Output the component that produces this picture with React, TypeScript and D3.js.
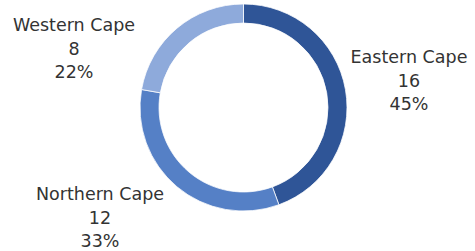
import React, { useEffect, useRef } from 'react';
import * as d3 from 'd3';

// chart data
const regions = ['Eastern Cape', 'Northern Cape', 'Western Cape'];
const counts = [16, 12, 8];
const percentLabels = ['45%', '33%', '22%'];
const colors = ['#2F5597', '#5580C6', '#8EAADB'];

// where Excel put the data labels (centre x, first baseline y)
const labelPos: [number, number][] = [
  [409, 63],
  [100, 200],
  [74, 31],
];

const W = 475;
const H = 251;

export default function App() {
  const ref = useRef<SVGSVGElement>(null);

  useEffect(() => {
    const svg = d3.select(ref.current);
    svg.selectAll('*').remove();

    const cx = 243.5;
    const cy = 107.5;
    const outer = 103.5;
    const inner = 84.5;

    const pie = d3.pie<number>().sort(null).value(d => d);
    const arc = d3.arc<d3.PieArcDatum<number>>().innerRadius(inner).outerRadius(outer);

    const g = svg.append('g').attr('transform', `translate(${cx},${cy})`);
    g.selectAll('path')
      .data(pie(counts))
      .enter()
      .append('path')
      .attr('d', arc)
      .attr('fill', (_, i) => colors[i])
      .attr('stroke', '#fff')
      .attr('stroke-width', 0.75);

    const labels = svg.append('g')
      .attr('font-family', '"DejaVu Sans", sans-serif')
      .attr('font-size', 17.5)
      .attr('fill', '#333')
      .attr('text-anchor', 'middle');

    regions.forEach((r, i) => {
      const [x, y] = labelPos[i];
      const t = labels.append('text').attr('x', x).attr('y', y);
      [r, String(counts[i]), percentLabels[i]].forEach((line, k) => {
        t.append('tspan').attr('x', x).attr('y', y + k * 23.5).text(line);
      });
    });
  }, []);

  return (
    <svg
      ref={ref}
      width={W}
      height={H}
      style={{ position: 'absolute', left: 0, top: 0, background: '#fff' }}
    />
  );
}
